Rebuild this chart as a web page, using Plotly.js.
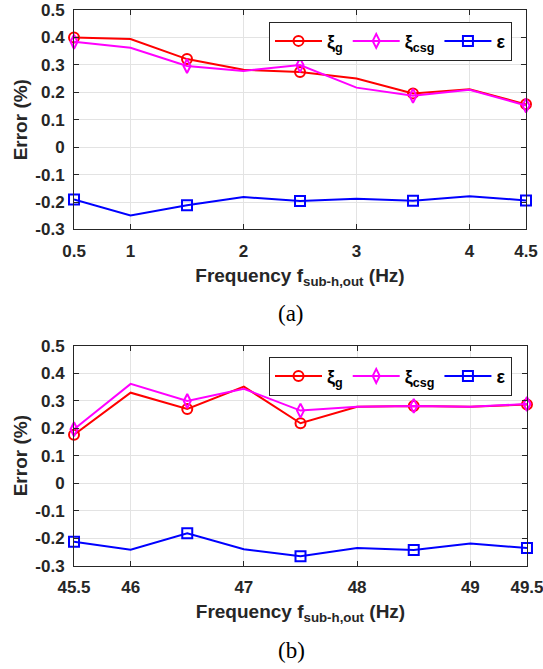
<!DOCTYPE html>
<html>
<head>
<meta charset="utf-8">
<script src="https://cdn.plot.ly/plotly-3.0.1.min.js"></script>
<style>html,body{margin:0;padding:0;background:#fff;}#chart{width:543px;height:669px;}</style>
</head>
<body>
<div id="chart"></div>
<script>
// ---- data (a) ----
const freqA = [0.5, 1, 1.5, 2, 2.5, 3, 3.5, 4, 4.5];
const xiG_A = [0.400, 0.394, 0.321, 0.282, 0.274, 0.250, 0.196, 0.211, 0.156];
const xiCsg_A = [0.384, 0.362, 0.296, 0.278, 0.299, 0.217, 0.187, 0.209, 0.152];
const eps_A = [-0.191, -0.249, -0.212, -0.182, -0.196, -0.188, -0.195, -0.179, -0.194];
const xTickValsA = [0.5, 1, 2, 3, 4, 4.5];
const xTickTextA = ['0.5', '1', '2', '3', '4', '4.5'];

// ---- data (b) ----
const freqB = [45.5, 46, 46.5, 47, 47.5, 48, 48.5, 49, 49.5];
const xiG_B = [0.176, 0.329, 0.270, 0.351, 0.218, 0.278, 0.281, 0.278, 0.286];
const xiCsg_B = [0.196, 0.361, 0.299, 0.343, 0.264, 0.278, 0.281, 0.278, 0.288];
const eps_B = [-0.213, -0.242, -0.182, -0.240, -0.266, -0.236, -0.243, -0.219, -0.236];
const xTickValsB = [45.5, 46, 47, 48, 49, 49.5];
const xTickTextB = ['45.5', '46', '47', '48', '49', '49.5'];

// ---- shared ----
const yTickVals = [-0.3, -0.2, -0.1, 0, 0.1, 0.2, 0.3, 0.4, 0.5];
const yTickText = ['-0.3', '-0.2', '-0.1', '0', '0.1', '0.2', '0.3', '0.4', '0.5'];
const seriesNames = ['ξ<sub>g</sub>', 'ξ<sub>csg</sub>', 'ε'];
const seriesColors = ['#FF0000', '#FF00FF', '#0000FF'];
const seriesSymbols = ['circle', 'diamond-tall', 'square'];

function markerColors(n, c) {
  const out = [];
  for (let i = 0; i < n; i++) out.push(i % 2 === 0 ? c : 'rgba(0,0,0,0)');
  return out;
}

function makeTraces(x, ys, xa, ya, legendId) {
  return ys.map((y, k) => ({
    type: 'scatter', mode: 'lines+markers',
    x: x, y: y, xaxis: xa, yaxis: ya, legend: legendId,
    name: seriesNames[k],
    cliponaxis: false,
    line: {color: seriesColors[k], width: 2},
    marker: {
      symbol: seriesSymbols[k],
      size: 10,
      color: 'rgba(0,0,0,0)',
      line: {color: markerColors(x.length, seriesColors[k]), width: 2}
    },
    hoverinfo: 'x+y'
  }));
}

const traces = [].concat(
  makeTraces(freqA, [xiG_A, xiCsg_A, eps_A], 'x', 'y', 'legend'),
  makeTraces(freqB, [xiG_B, xiCsg_B, eps_B], 'x2', 'y2', 'legend2')
);

const fontFam = 'Liberation Sans, Arial, sans-serif';
const tickFont = {family: fontFam, size: 17, color: '#262626', weight: 'bold'};
const titleFont = {family: fontFam, size: 19, color: '#262626', weight: 'bold'};

function xAxis(tv, tt, domain, anchor) {
  return {
    domain: domain, anchor: anchor,
    range: [tv[0], tv[tv.length - 1]],
    tickmode: 'array', tickvals: tv, ticktext: tt,
    ticks: 'inside', ticklen: 5, tickwidth: 1, tickcolor: '#262626',
    ticklabelstandoff: 6, ticklabeloverflow: 'allow',
    showline: true, linecolor: '#262626', linewidth: 1, mirror: 'ticks',
    showgrid: true, gridcolor: '#E3E3E3', gridwidth: 1, zeroline: false,
    tickfont: tickFont,
    title: {text: 'Frequency f<sub>sub-h,out</sub> (Hz)', font: titleFont, standoff: 8}
  };
}
function yAxis(domain, anchor) {
  return {
    domain: domain, anchor: anchor,
    range: [-0.3, 0.5],
    tickmode: 'array', tickvals: yTickVals, ticktext: yTickText,
    ticks: 'inside', ticklen: 5, tickwidth: 1, tickcolor: '#262626',
    ticklabelstandoff: 5, ticklabeloverflow: 'allow',
    showline: true, linecolor: '#262626', linewidth: 1, mirror: 'ticks',
    showgrid: true, gridcolor: '#E3E3E3', gridwidth: 1, zeroline: false,
    tickfont: tickFont,
    title: {text: 'Error (%)', font: titleFont, standoff: 2}
  };
}

const legendBase = {
  orientation: 'h', xanchor: 'left', yanchor: 'top',
  bgcolor: '#FFFFFF', bordercolor: '#262626', borderwidth: 1,
  font: {family: fontFam, size: 18, color: '#000', weight: 'bold'},
  itemwidth: 47, tracegroupgap: 0
};

const layout = {
  width: 543, height: 669,
  margin: {l: 0, r: 0, t: 0, b: 0},
  paper_bgcolor: '#FFFFFF', plot_bgcolor: '#FFFFFF',
  showlegend: true,
  xaxis: xAxis(xTickValsA, xTickTextA, [0.1363, 0.9687], 'y'),
  yaxis: yAxis([0.6570, 0.9851], 'x'),
  xaxis2: xAxis(xTickValsB, xTickTextB, [0.1363, 0.9705], 'y2'),
  yaxis2: yAxis([0.1544, 0.4833], 'x2'),
  legend: Object.assign({}, legendBase, {x: 0.4954, y: 0.9676}),
  legend2: Object.assign({}, legendBase, {x: 0.4954, y: 0.4668}),
  annotations: [
    {text: '(a)', x: 291 / 543, y: 1 - 313 / 669, xref: 'paper', yref: 'paper', showarrow: false,
     xanchor: 'center', yanchor: 'middle', font: {family: 'Liberation Serif, Times New Roman, serif', size: 23, color: '#000'}},
    {text: '(b)', x: 291 / 543, y: 1 - 650 / 669, xref: 'paper', yref: 'paper', showarrow: false,
     xanchor: 'center', yanchor: 'middle', font: {family: 'Liberation Serif, Times New Roman, serif', size: 23, color: '#000'}}
  ]
};

Plotly.newPlot('chart', traces, layout, {displayModeBar: false, staticPlot: true});
</script>
</body>
</html>
